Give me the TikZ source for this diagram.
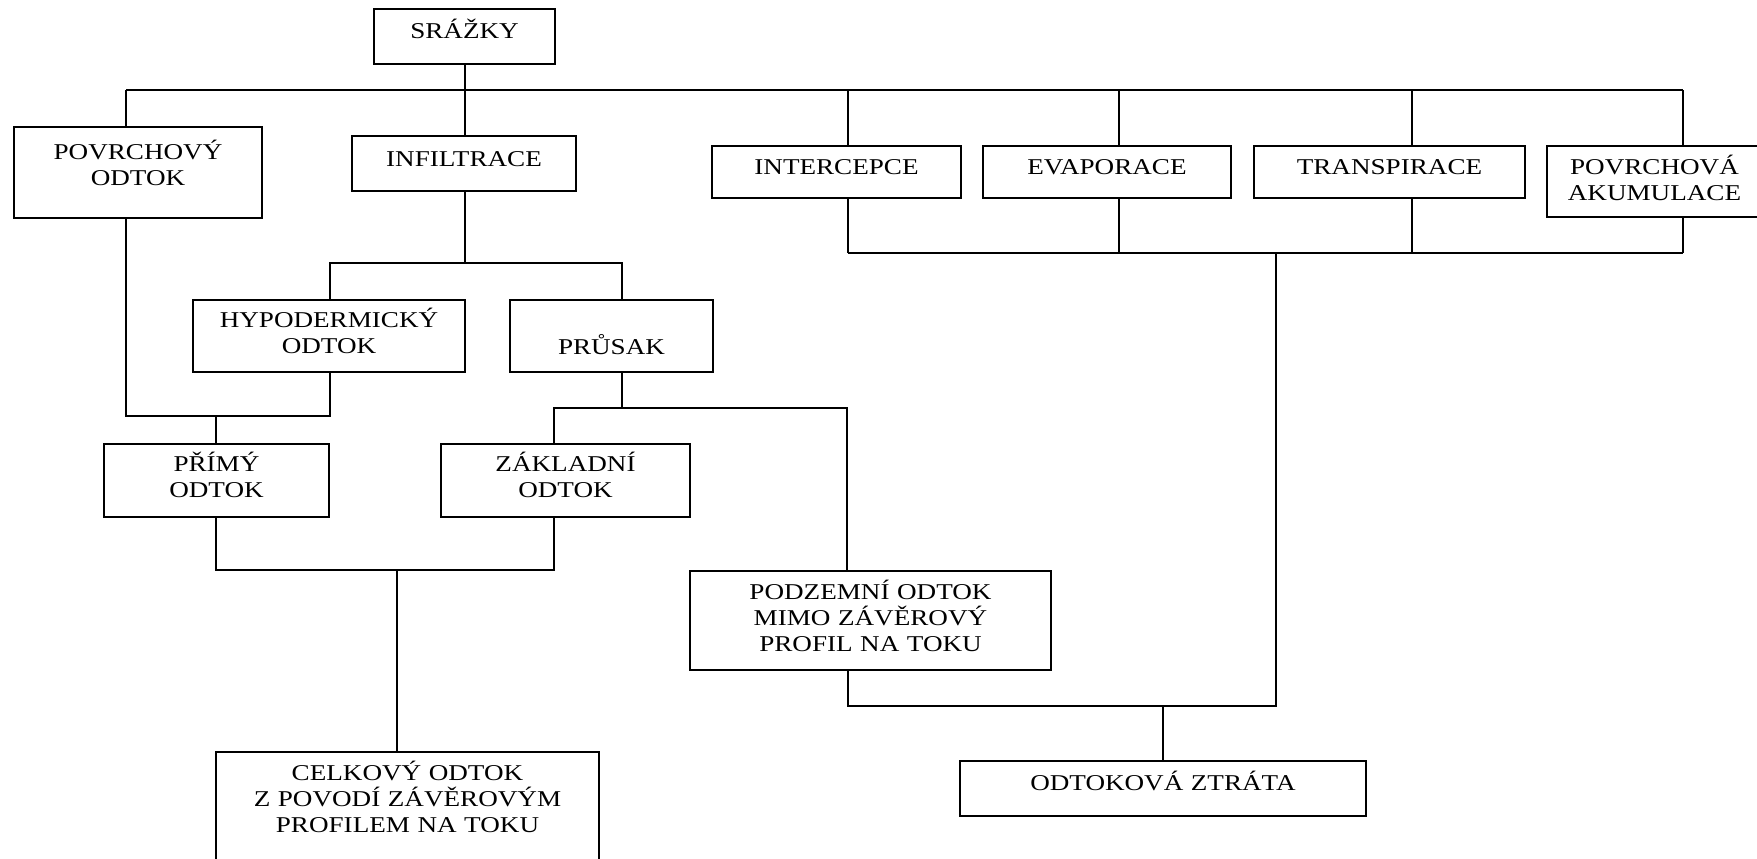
\documentclass[tikz,border=0pt]{standalone}
\usepackage{fontspec}
\setmainfont[FakeStretch=1.2]{Liberation Serif}

\begin{document}
\begin{tikzpicture}[x=0.5pt,y=-0.5pt]
    \tikzstyle{box}=[draw, line width=1pt, anchor=north west, inner sep=0pt, outer sep=0pt,
        align=center, font=\fontsize{11.3}{13}\selectfont]
    \tikzstyle{link}=[line width=0.8pt]
    \useasboundingbox (0,0) rectangle (1757,858);
    \foreach \n/\xa/\ya/\xb/\yb/\bl/\txt in {srazky/374/9/555/64/38.5/SRÁŽKY,
        povrch/14/127/262/218/159.5/{POVRCHOVÝ\\ODTOK}, infil/352/136/576/191/166/INFILTRACE,
        interc/712/146/961/198/174.5/INTERCEPCE, evap/983/146/1231/198/174.5/EVAPORACE,
        transp/1254/146/1525/198/174.5/TRANSPIRACE, akum/1547/146/1762/217/174.5/{POVRCHOVÁ\\AKUMULACE},
        hypo/193/300/465/372/327.5/{HYPODERMICKÝ\\ODTOK}, prusak/510/300/713/372/354.5/PRŮSAK,
        primy/104/444/329/517/471.5/{PŘÍMÝ\\ODTOK}, zaklad/441/444/690/517/471.5/{ZÁKLADNÍ\\ODTOK},
        podzem/690/571/1051/670/599.5/{PODZEMNÍ ODTOK\\MIMO ZÁVĚROVÝ\\PROFIL NA TOKU},
        celk/216/752/599/875/780.5/{CELKOVÝ ODTOK\\Z POVODÍ ZÁVĚROVÝM\\PROFILEM NA TOKU},
        ztrata/960/761/1366/816/790.5/ODTOKOVÁ ZTRÁTA}
    {
        \pgfmathsetmacro\boxw{(\xb-\xa)/2}
        \pgfmathsetmacro\boxh{(\bl-\ya)/2}
        \pgfmathsetmacro\boxd{(\yb-\bl)/2}
        \node[box, text width=\boxw pt, text height=\boxh pt, text depth=\boxd pt] (\n) at (\xa,\ya) {\txt};
    }
    \foreach \c/\x/\y in {t0/465/90, t1/126/90, t2/848/90, t3/1119/90, t4/1412/90, t5/1683/90,
        d1/848/253, d2/1119/253, d3/1412/253, d4/1683/253, d5/1276/253,
        s1/1276/706, s2/848/706, s3/1163/706, i0/465/263, i1/330/263, i2/622/263,
        p1/126/416, p2/330/416, p3/216/416, q1/554/408, q2/847/408,
        r1/216/570, r2/554/570, r3/397/570}
        \coordinate (\c) at (\x,\y);
    \draw[link] (t1) -- (t5);
    \draw[link] (t0 |- srazky.south) -- (t0 |- infil.north);
    \draw[link] (t1) -- (t1 |- povrch.north);
    \foreach \c/\n in {t2/interc, t3/evap, t4/transp, t5/akum}
        \draw[link] (\c) -- (\c |- \n.north);
    \foreach \c/\n in {d1/interc, d2/evap, d3/transp, d4/akum}
        \draw[link] (\c) -- (\c |- \n.south);
    \draw[link] (d1) -- (d4);
    \draw[link] (d5) -- (s1) -- (s2) -- (s2 |- podzem.south);
    \draw[link] (s3) -- (s3 |- ztrata.north);
    \draw[link] (i0 |- infil.south) -- (i0);
    \draw[link] (i1 |- hypo.north) -- (i1) -- (i2) -- (i2 |- prusak.north);
    \draw[link] (p1 |- povrch.south) -- (p1) -- (p2) -- (p2 |- hypo.south);
    \draw[link] (p3) -- (p3 |- primy.north);
    \draw[link] (i2 |- prusak.south) -- (i2 |- q1);
    \draw[link] (q1 |- zaklad.north) -- (q1) -- (q2) -- (q2 |- podzem.north);
    \draw[link] (r1 |- primy.south) -- (r1) -- (r2) -- (r2 |- zaklad.south);
    \draw[link] (r3) -- (r3 |- celk.north);
\end{tikzpicture}
\end{document}
